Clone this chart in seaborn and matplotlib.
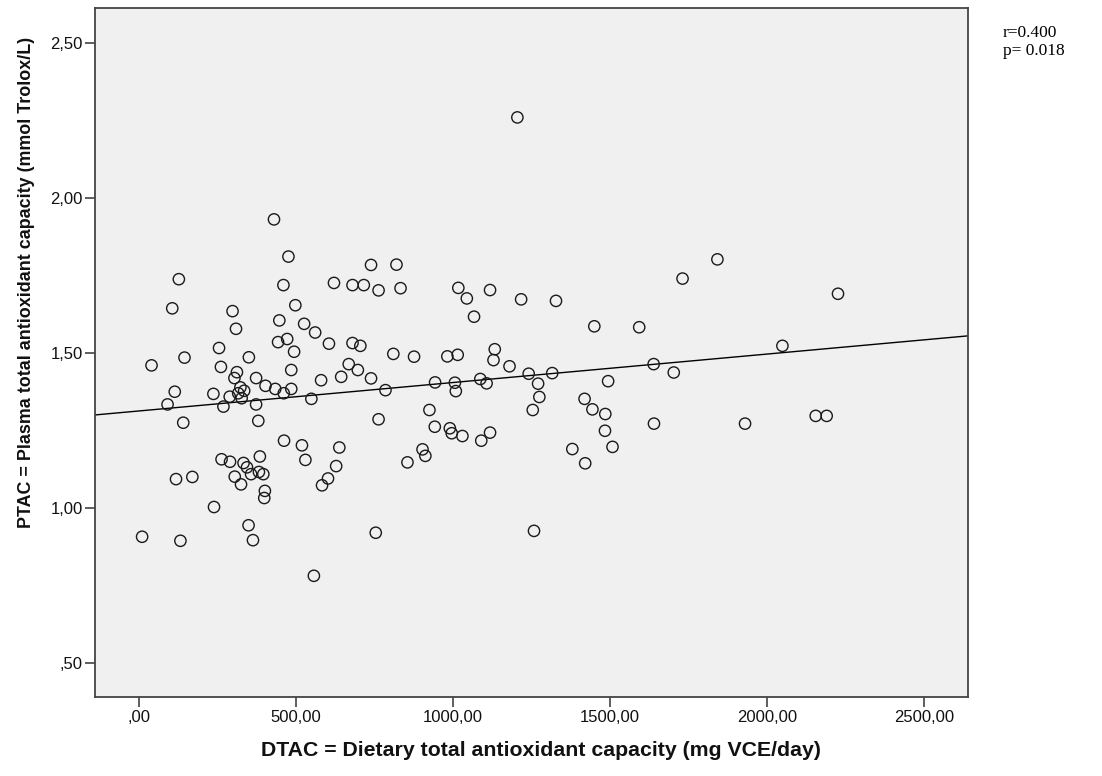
import numpy as np
import pandas as pd
import matplotlib
matplotlib.use("Agg")
import matplotlib.pyplot as plt
import seaborn as sns

# ---- data ----
dtac = [430, 476, 127, 460, 739, 621, 680, 716, 763, 820,
        106, 298, 498, 309, 447, 526, 561, 443, 472, 494,
        605, 680, 705, 810, 255, 40, 145, 261, 350, 312,
        304, 373, 485, 403, 434, 485, 461, 323, 335, 316,
        237, 289, 327, 114, 91, 269, 373, 549, 580, 644,
        668, 697, 739, 785, 763, 141, 380, 462, 519, 638,
        118, 170, 263, 290, 333, 344, 357, 382, 396, 385,
        305, 325, 401, 399, 239, 349, 363, 10, 132, 557,
        530, 628, 602, 583, 754,
        833, 1017, 1044, 1118, 1067, 1217, 1328, 1450, 1593, 876,
        982, 1015, 1133, 1129, 1180, 943, 1006, 1009, 1087, 1107,
        1241, 1316, 1271, 1275, 1254, 1639, 1703, 1494, 1419, 1444,
        1485, 1640, 1484, 1508, 1380, 1421, 925, 942, 990, 996,
        1030, 1090, 1118, 903, 912, 855, 1258,
        1842, 1731, 2226, 2049, 1205, 1930, 2155, 2190]
ptac = [1.931, 1.811, 1.738, 1.719, 1.784, 1.726, 1.719, 1.719, 1.702, 1.785,
        1.644, 1.635, 1.654, 1.578, 1.605, 1.594, 1.566, 1.535, 1.545, 1.504,
        1.530, 1.532, 1.523, 1.497, 1.516, 1.460, 1.485, 1.455, 1.486, 1.438,
        1.419, 1.419, 1.445, 1.394, 1.384, 1.384, 1.370, 1.389, 1.378, 1.370,
        1.368, 1.359, 1.354, 1.375, 1.334, 1.327, 1.334, 1.352, 1.412, 1.423,
        1.464, 1.445, 1.418, 1.380, 1.286, 1.275, 1.281, 1.217, 1.202, 1.195,
        1.093, 1.100, 1.157, 1.149, 1.145, 1.131, 1.109, 1.116, 1.109, 1.166,
        1.101, 1.076, 1.055, 1.032, 1.003, 0.944, 0.896, 0.907, 0.894, 0.781,
        1.155, 1.135, 1.095, 1.073, 0.920,
        1.709, 1.710, 1.676, 1.703, 1.617, 1.673, 1.668, 1.586, 1.583, 1.488,
        1.489, 1.494, 1.512, 1.477, 1.457, 1.405, 1.404, 1.377, 1.416, 1.402,
        1.433, 1.435, 1.401, 1.358, 1.316, 1.464, 1.437, 1.409, 1.352, 1.318,
        1.303, 1.272, 1.249, 1.197, 1.190, 1.144, 1.316, 1.262, 1.257, 1.241,
        1.232, 1.217, 1.243, 1.189, 1.168, 1.147, 0.926,
        1.802, 1.740, 1.691, 1.523, 2.260, 1.272, 1.297, 1.297]

x_ticks = [0, 500, 1000, 1500, 2000, 2500]
x_tick_labels = [",00", "500,00", "1000,00", "1500,00", "2000,00", "2500,00"]
y_ticks = [0.5, 1.0, 1.5, 2.0, 2.5]
y_tick_labels = [",50", "1,00", "1,50", "2,00", "2,50"]

x_label = "DTAC = Dietary total antioxidant capacity (mg VCE/day)"
y_label = "PTAC = Plasma total antioxidant capacity (mmol Trolox/L)"
stats_text = "r=0.400\np= 0.018"

df = pd.DataFrame({"DTAC": dtac, "PTAC": ptac})

sns.set_theme(style="ticks")
plt.rcParams["font.family"] = ["Liberation Sans", "DejaVu Sans"]

W, H = 1102, 776
fig = plt.figure(figsize=(W / 100, H / 100), dpi=100)
fig.patch.set_facecolor("white")
ax = fig.add_axes([95 / W, 1 - 697 / H, (968 - 95) / W, (697 - 8) / H])
ax.set_facecolor("#F0F0F0")
ax.set_xlim(-140, 2640)
ax.set_ylim(0.39, 2.613)

sns.scatterplot(data=df, x="DTAC", y="PTAC", ax=ax, marker="o", s=66,
                facecolors="none", edgecolor="#1a1a1a", linewidth=1.0,
                zorder=3)
sns.regplot(data=df, x="DTAC", y="PTAC", ax=ax, scatter=False, ci=None,
            truncate=False, color="black", line_kws=dict(lw=1.0, zorder=2))
ax.set_xlim(-140, 2640)
ax.set_ylim(0.39, 2.613)

ax.set_xticks(x_ticks)
ax.set_xticklabels(x_tick_labels)
ax.set_yticks(y_ticks)
ax.set_yticklabels(y_tick_labels)
ax.tick_params(axis="both", direction="out", length=7, width=1.1,
               color="#333333", labelsize=12, labelcolor="#111111", pad=2)
for sp in ax.spines.values():
    sp.set_color("#444444")
    sp.set_linewidth(1.3)
    sp.set_visible(True)
ax.set_xlabel("")
ax.set_ylabel("")

# axis titles placed in figure pixels
fig.text(541 / W, 1 - 750 / H, x_label, ha="center", va="center",
         fontsize=15.3, fontweight="bold", color="#111111")
fig.text(27 / W, 1 - 282 / H, y_label, ha="center", va="center",
         rotation=90, fontsize=12.9, fontweight="bold", color="#111111")

fig.text(1003 / W, 1 - 25 / H, stats_text, ha="left", va="top",
         fontsize=12.5, family=["Liberation Serif", "DejaVu Serif"],
         linespacing=1.15, color="black")

fig.savefig("out.png", dpi=100, facecolor="white")
